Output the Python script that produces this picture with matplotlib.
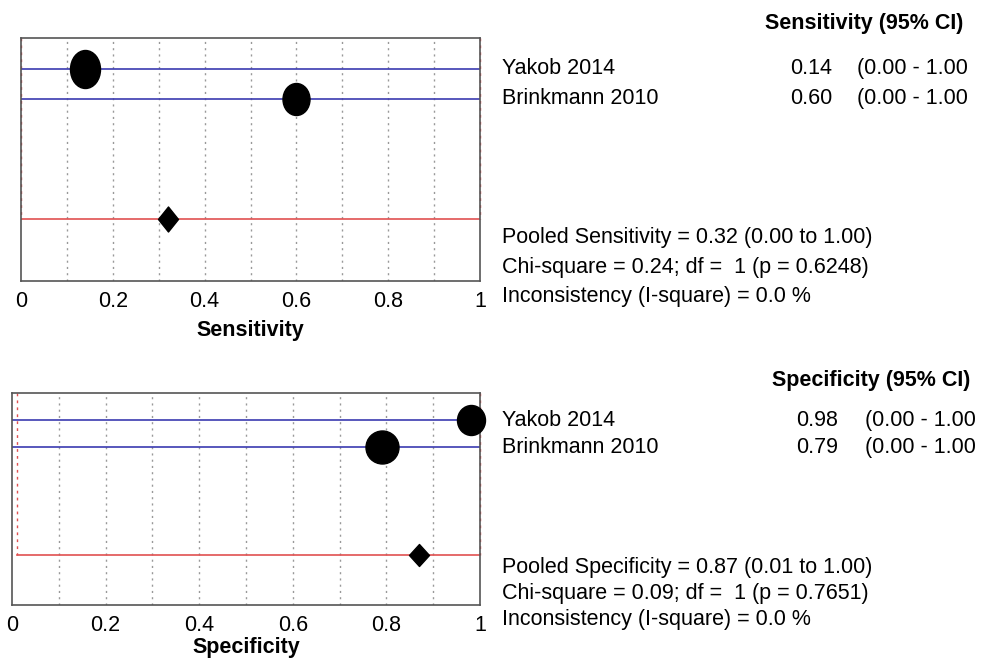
import numpy as np
import matplotlib
matplotlib.use("Agg")
import matplotlib.pyplot as plt
from matplotlib.path import Path
from matplotlib import transforms

plt.rcParams['font.family'] = ['Liberation Sans', 'DejaVu Sans']

# ---------------- data ----------------
studies = ["Yakob 2014", "Brinkmann 2010"]
sens = [0.14, 0.60]
sens_lo = [0.00, 0.00]
sens_hi = [1.00, 1.00]
sens_pooled = 0.32
sens_pooled_ci = (0.00, 1.00)
sens_stats = ["Pooled Sensitivity = 0.32 (0.00 to 1.00)",
              "Chi-square = 0.24; df =  1 (p = 0.6248)",
              "Inconsistency (I-square) = 0.0 %"]

spec = [0.98, 0.79]
spec_lo = [0.00, 0.00]
spec_hi = [1.00, 1.00]
spec_pooled = 0.87
spec_pooled_ci = (0.01, 1.00)
spec_stats = ["Pooled Specificity = 0.87 (0.01 to 1.00)",
              "Chi-square = 0.09; df =  1 (p = 0.7651)",
              "Inconsistency (I-square) = 0.0 %"]

xticks = [0, 0.2, 0.4, 0.6, 0.8, 1]
xticklabels = ["0", "0.2", "0.4", "0.6", "0.8", "1"]

# ---------------- style ----------------
W, H = 982, 660
FS = 15.5
sens_marker_wh = [(30, 38), (27, 32)]
spec_marker_wh = [(28, 30), (33, 33)]
BLUE = "#3b3bb0"
RED = "#e05050"
FRAME = "#555555"


def ellipse_marker(w, h):
    c = Path.unit_circle()
    v = c.vertices * np.array([w, h])
    return Path(v, c.codes)


def diamond_marker(w, h):
    return Path([(0, -h), (w, 0), (0, h), (-w, 0), (0, -h)],
                [Path.MOVETO, Path.LINETO, Path.LINETO, Path.LINETO, Path.CLOSEPOLY])


px2pt = 72 / 100.0

fig = plt.figure(figsize=(W / 100, H / 100), dpi=100)


def panel(rect, ylim, vals, lo, hi, pooled, pooled_ci, wh, diam_wh, xlabel,
          labelpad, head, head_x, head_y, val_x, ci_x):
    l, t, r, b = rect
    ax = fig.add_axes([l / W, 1 - b / H, (r - l) / W, (b - t) / H])
    ax.set_xlim(0, 1)
    ax.set_ylim(*ylim)
    for x in np.arange(0.1, 1.0, 0.1):
        ax.axvline(x, color="#999999", lw=1, ls=(0, (1.5, 3)), zorder=0)
    ys = [1, 2]
    pooled_y = 6
    # vertical dashed red at pooled CI limits
    for cx in pooled_ci:
        ax.plot([cx, cx], [ylim[1], pooled_y], color=RED, lw=1,
                ls=(0, (2, 3)), zorder=1, clip_on=False)
    for y, v, a, bb, (w, h) in zip(ys, vals, lo, hi, wh):
        ax.plot([a, bb], [y, y], color=BLUE, lw=1.2, zorder=2)
        ax.plot([v], [y], marker=ellipse_marker(w, h), color="black",
                markersize=max(w, h) * px2pt, ls="none", zorder=3, clip_on=False)
    ax.plot([pooled_ci[0], pooled_ci[1]], [pooled_y, pooled_y], color=RED, lw=1.2, zorder=2)
    dw, dh = diam_wh
    ax.plot([pooled], [pooled_y], marker=diamond_marker(dw, dh), color="black",
            markersize=max(dw, dh) * px2pt, ls="none", zorder=3)
    ax.set_xticks(xticks)
    ax.set_xticklabels(xticklabels, fontsize=FS)
    ax.set_yticks([])
    ax.tick_params(axis="x", length=0, pad=7)
    ax.set_xlabel(xlabel, fontsize=FS, fontweight="bold", labelpad=labelpad)
    for s in ax.spines.values():
        s.set_color(FRAME)
        s.set_linewidth(1.2)

    tr = transforms.blended_transform_factory(fig.transFigure, ax.transData)
    fig.text(head_x / W, 1 - head_y / H, head, fontsize=FS, fontweight="bold",
             ha="left", va="center")
    for y, name, v, a, bb in zip(ys, studies, vals, lo, hi):
        fig.text(502 / W, y, name, transform=tr, fontsize=FS, ha="left", va="center")
        fig.text(val_x / W, y, f"{v:.2f}", transform=tr, fontsize=FS, ha="right", va="center")
        fig.text(ci_x / W, y, f"({a:.2f} - {bb:.2f}", transform=tr, fontsize=FS,
                 ha="left", va="center")
    return ax


ax1 = panel((21, 38, 480, 281), (8.07, -0.03), sens, sens_lo, sens_hi,
            sens_pooled, sens_pooled_ci, sens_marker_wh, (20, 25), "Sensitivity", 6,
            "Sensitivity (95% CI)", 765, 23, 832, 857)
for i, s in enumerate(sens_stats):
    fig.text(502 / W, 1 - (237 + 30 * i) / H, s, fontsize=FS, ha="left", va="center")

ax2 = panel((12, 393, 480, 605), (7.85, 0.0), spec, spec_lo, spec_hi,
            spec_pooled, spec_pooled_ci, spec_marker_wh, (20, 22), "Specificity", 1,
            "Specificity (95% CI)", 772, 380, 838, 865)
for i, s in enumerate(spec_stats):
    fig.text(502 / W, 1 - (567 + 26.5 * i) / H, s, fontsize=FS, ha="left", va="center")

fig.savefig("out.png", dpi=100, facecolor="white")
